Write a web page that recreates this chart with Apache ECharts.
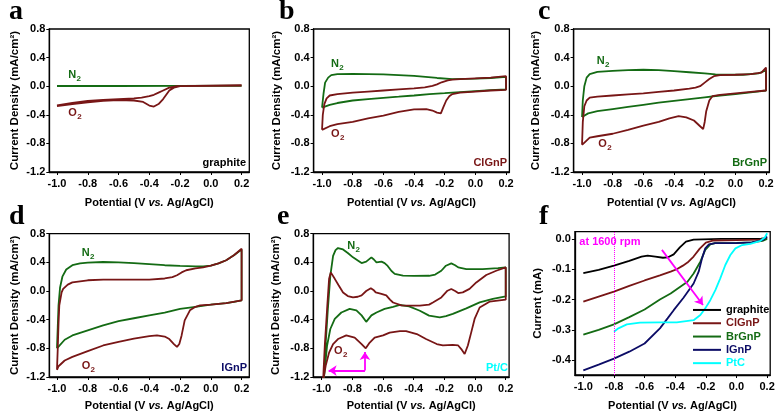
<!DOCTYPE html>
<html><head><meta charset="utf-8">
<script src="https://cdn.jsdelivr.net/npm/echarts@6/dist/echarts.min.js"></script>
<style>html,body{margin:0;padding:0;background:#fff}#c{width:781px;height:419px}</style>
</head><body><div id="c"></div>
<script>
// ---------- tick labels ----------
const xTicks = [-1.0, -0.8, -0.6, -0.4, -0.2, 0.0, 0.2];
const yTicksCV = [0.8, 0.4, 0.0, -0.4, -0.8, -1.2];
const yTicksLSV = [0.0, -0.1, -0.2, -0.3, -0.4];
const panelLetters = ['a', 'b', 'c', 'd', 'e', 'f'];
const sampleNames = ['graphite', 'ClGnP', 'BrGnP', 'IGnP', 'Pt/C'];
const lsvNames = ['graphite', 'ClGnP', 'BrGnP', 'IGnP', 'PtC'];

// ---------- panel a (graphite) ----------
const aN2 = [[-1.0, 0.003], [-0.6, 0.003], [-0.2, 0.004], [0.2, 0.006]];
const aO2 = [[-1.0, -0.27], [-0.9, -0.235], [-0.8, -0.205], [-0.7, -0.19], [-0.6, -0.18], [-0.5, -0.17], [-0.45, -0.16], [-0.4, -0.14], [-0.37, -0.12], [-0.34, -0.09], [-0.31, -0.06], [-0.27, -0.02], [-0.22, 0.0], [0.0, 0.008], [0.2, 0.01],
  [0.2, 0.008], [0.0, 0.006], [-0.2, 0.0], [-0.24, -0.02], [-0.27, -0.06], [-0.31, -0.18], [-0.34, -0.25], [-0.37, -0.285], [-0.4, -0.27], [-0.44, -0.22], [-0.5, -0.2], [-0.6, -0.195], [-0.7, -0.205], [-0.8, -0.225], [-0.9, -0.25], [-1.0, -0.28]];

// ---------- panel b (ClGnP) ----------
const bN2 = [[-1.0, -0.30], [-0.99, -0.1], [-0.98, 0.05], [-0.96, 0.12], [-0.94, 0.155], [-0.9, 0.17], [-0.8, 0.172], [-0.6, 0.165], [-0.4, 0.145], [-0.25, 0.115], [-0.15, 0.1], [0.0, 0.105], [0.1, 0.115], [0.2, 0.13],
  [0.2, -0.045], [0.1, -0.055], [0.0, -0.068], [-0.1, -0.082], [-0.2, -0.098], [-0.3, -0.112], [-0.4, -0.13], [-0.5, -0.147], [-0.6, -0.163], [-0.7, -0.18], [-0.8, -0.2], [-0.9, -0.235], [-0.95, -0.26], [-1.0, -0.30]];
const bO2 = [[-1.0, -0.61], [-0.995, -0.4], [-0.985, -0.25], [-0.97, -0.17], [-0.95, -0.13], [-0.9, -0.11], [-0.8, -0.09], [-0.7, -0.075], [-0.6, -0.06], [-0.5, -0.045], [-0.4, -0.03], [-0.33, -0.015], [-0.28, 0.005], [-0.25, 0.025], [-0.22, 0.055], [-0.18, 0.08], [-0.15, 0.093], [-0.1, 0.1], [0.0, 0.11], [0.1, 0.12], [0.2, 0.14],
  [0.2, -0.05], [0.1, -0.06], [0.0, -0.075], [-0.1, -0.09], [-0.15, -0.11], [-0.17, -0.14], [-0.19, -0.2], [-0.21, -0.3], [-0.225, -0.38], [-0.235, -0.4], [-0.25, -0.37], [-0.28, -0.34], [-0.32, -0.32], [-0.4, -0.325], [-0.5, -0.36], [-0.6, -0.41], [-0.7, -0.45], [-0.8, -0.5], [-0.9, -0.53], [-0.95, -0.56], [-1.0, -0.61]];

// ---------- panel c (BrGnP) ----------
const cN2 = [[-1.0, -0.43], [-0.995, -0.2], [-0.985, 0.0], [-0.97, 0.12], [-0.95, 0.17], [-0.9, 0.2], [-0.8, 0.215], [-0.7, 0.225], [-0.6, 0.23], [-0.5, 0.225], [-0.4, 0.21], [-0.3, 0.195], [-0.2, 0.18], [-0.13, 0.165], [-0.05, 0.16], [0.05, 0.16], [0.15, 0.18], [0.2, 0.22],
  [0.2, -0.06], [0.1, -0.085], [0.0, -0.11], [-0.1, -0.13], [-0.2, -0.155], [-0.3, -0.18], [-0.4, -0.205], [-0.5, -0.23], [-0.6, -0.26], [-0.7, -0.29], [-0.8, -0.32], [-0.9, -0.35], [-0.96, -0.38], [-1.0, -0.43]];
const cO2 = [[-1.0, -0.82], [-0.995, -0.5], [-0.985, -0.28], [-0.97, -0.2], [-0.95, -0.16], [-0.9, -0.145], [-0.8, -0.13], [-0.7, -0.115], [-0.6, -0.1], [-0.5, -0.08], [-0.4, -0.06], [-0.3, -0.035], [-0.26, -0.02], [-0.23, 0.0], [-0.2, 0.05], [-0.17, 0.1], [-0.14, 0.14], [-0.1, 0.155], [0.0, 0.16], [0.1, 0.17], [0.17, 0.19], [0.2, 0.26],
  [0.2, -0.06], [0.1, -0.08], [0.0, -0.1], [-0.1, -0.12], [-0.15, -0.14], [-0.17, -0.2], [-0.19, -0.35], [-0.2, -0.5], [-0.21, -0.6], [-0.23, -0.56], [-0.27, -0.48], [-0.32, -0.435], [-0.37, -0.42], [-0.43, -0.45], [-0.5, -0.5], [-0.6, -0.55], [-0.7, -0.61], [-0.8, -0.665], [-0.9, -0.7], [-0.95, -0.72], [-1.0, -0.82]];

// ---------- panel d (IGnP) ----------
const dN2 = [[-1.0, -0.8], [-0.995, -0.5], [-0.99, -0.2], [-0.98, 0.05], [-0.965, 0.2], [-0.94, 0.3], [-0.9, 0.36], [-0.85, 0.385], [-0.8, 0.395], [-0.7, 0.405], [-0.6, 0.4], [-0.5, 0.39], [-0.4, 0.375], [-0.3, 0.36], [-0.2, 0.35], [-0.1, 0.345], [-0.05, 0.345], [0.0, 0.355], [0.05, 0.385], [0.1, 0.43], [0.15, 0.5], [0.2, 0.58],
  [0.2, -0.13], [0.15, -0.15], [0.1, -0.17], [0.0, -0.19], [-0.1, -0.22], [-0.2, -0.25], [-0.3, -0.3], [-0.4, -0.34], [-0.5, -0.38], [-0.6, -0.42], [-0.7, -0.48], [-0.8, -0.55], [-0.9, -0.62], [-0.95, -0.68], [-1.0, -0.8]];
const dO2 = [[-1.0, -1.1], [-0.995, -0.8], [-0.99, -0.45], [-0.985, -0.2], [-0.97, -0.02], [-0.96, 0.03], [-0.93, 0.09], [-0.9, 0.12], [-0.8, 0.15], [-0.7, 0.16], [-0.6, 0.16], [-0.5, 0.16], [-0.4, 0.16], [-0.3, 0.175], [-0.25, 0.195], [-0.22, 0.22], [-0.19, 0.26], [-0.16, 0.29], [-0.1, 0.315], [-0.05, 0.33], [0.0, 0.355], [0.05, 0.385], [0.1, 0.43], [0.15, 0.5], [0.2, 0.59],
  [0.2, -0.13], [0.1, -0.17], [0.0, -0.19], [-0.07, -0.2], [-0.1, -0.22], [-0.136, -0.27], [-0.17, -0.41], [-0.19, -0.62], [-0.205, -0.74], [-0.22, -0.78], [-0.24, -0.74], [-0.27, -0.67], [-0.3, -0.635], [-0.35, -0.62], [-0.4, -0.63], [-0.5, -0.665], [-0.6, -0.71], [-0.7, -0.76], [-0.8, -0.84], [-0.9, -0.92], [-0.95, -0.97], [-0.99, -1.05], [-1.0, -1.1]];

// ---------- panel e (Pt/C) ----------
const eN2 = [[-0.99, -1.3], [-0.985, -1.2], [-0.974, -0.72], [-0.96, -0.25], [-0.944, 0.21], [-0.926, 0.49], [-0.91, 0.57], [-0.894, 0.6], [-0.861, 0.58], [-0.83, 0.53], [-0.796, 0.47], [-0.76, 0.42], [-0.74, 0.39], [-0.71, 0.41], [-0.676, 0.47], [-0.66, 0.44], [-0.643, 0.4], [-0.61, 0.41], [-0.59, 0.39], [-0.57, 0.35], [-0.545, 0.28], [-0.524, 0.24], [-0.47, 0.215], [-0.4, 0.21], [-0.3, 0.213], [-0.26, 0.23], [-0.22, 0.283], [-0.19, 0.353], [-0.155, 0.385], [-0.13, 0.36], [-0.11, 0.33], [-0.057, 0.306], [0.05, 0.306], [0.15, 0.32], [0.2, 0.33],
  [0.2, -0.075], [0.116, -0.11], [0.03, -0.159], [-0.057, -0.243], [-0.145, -0.32], [-0.19, -0.35], [-0.23, -0.368], [-0.3, -0.344], [-0.36, -0.275], [-0.43, -0.215], [-0.49, -0.195], [-0.535, -0.22], [-0.59, -0.25], [-0.643, -0.3], [-0.676, -0.34], [-0.71, -0.43], [-0.74, -0.34], [-0.774, -0.27], [-0.818, -0.25], [-0.872, -0.3], [-0.915, -0.39], [-0.944, -0.53], [-0.965, -0.76], [-0.985, -1.2], [-0.99, -1.3]];
const eO2 = [[-0.995, -1.3], [-0.99, -1.2], [-0.98, -0.76], [-0.965, -0.25], [-0.952, 0.17], [-0.941, 0.26], [-0.93, 0.24], [-0.915, 0.17], [-0.89, 0.08], [-0.861, -0.02], [-0.83, -0.07], [-0.796, -0.09], [-0.765, -0.08], [-0.74, -0.06], [-0.71, 0.0], [-0.68, 0.04], [-0.66, 0.01], [-0.648, -0.02], [-0.611, -0.04], [-0.579, -0.06], [-0.555, -0.12], [-0.535, -0.16], [-0.48, -0.2], [-0.427, -0.205], [-0.36, -0.205], [-0.3, -0.19], [-0.275, -0.16], [-0.22, -0.089], [-0.18, 0.004], [-0.155, 0.028], [-0.13, 0.0], [-0.11, -0.028], [-0.08, -0.019], [-0.036, 0.03], [0.008, 0.12], [0.073, 0.223], [0.138, 0.283], [0.2, 0.33],
  [0.2, -0.121], [0.094, -0.149], [0.03, -0.23], [-0.003, -0.39], [-0.025, -0.577], [-0.047, -0.76], [-0.068, -0.879], [-0.09, -0.81], [-0.11, -0.76], [-0.146, -0.753], [-0.21, -0.76], [-0.25, -0.74], [-0.32, -0.67], [-0.38, -0.6], [-0.45, -0.56], [-0.49, -0.56], [-0.557, -0.58], [-0.6, -0.62], [-0.655, -0.65], [-0.687, -0.72], [-0.713, -0.8], [-0.74, -0.74], [-0.785, -0.65], [-0.84, -0.62], [-0.894, -0.67], [-0.926, -0.74], [-0.952, -0.86], [-0.974, -1.04], [-0.987, -1.2], [-0.99, -1.3]];
const eArrowH = [[-0.718, -1.11], [-0.955, -1.11]];
const eArrowV = [[-0.718, -1.11], [-0.718, -0.85]];

// ---------- panel f (LSV at 1600 rpm) ----------
const fGraphite = [[-1.0, -0.113], [-0.9, -0.102], [-0.8, -0.088], [-0.7, -0.072], [-0.62, -0.058], [-0.58, -0.055], [-0.53, -0.058], [-0.48, -0.062], [-0.45, -0.061], [-0.41, -0.051], [-0.37, -0.028], [-0.33, -0.009], [-0.28, -0.002], [-0.1, 0.0], [0.1, 0.0], [0.16, 0.001], [0.2, 0.003]];
const fClGnP = [[-1.0, -0.207], [-0.9, -0.19], [-0.8, -0.174], [-0.7, -0.155], [-0.6, -0.137], [-0.5, -0.12], [-0.43, -0.108], [-0.39, -0.1], [-0.35, -0.088], [-0.32, -0.078], [-0.28, -0.058], [-0.24, -0.032], [-0.2, -0.012], [-0.15, -0.005], [0.0, -0.004], [0.15, -0.002], [0.2, 0.002]];
const fBrGnP = [[-1.0, -0.316], [-0.9, -0.3], [-0.8, -0.282], [-0.7, -0.258], [-0.6, -0.233], [-0.5, -0.2], [-0.43, -0.18], [-0.36, -0.155], [-0.32, -0.141], [-0.28, -0.114], [-0.236, -0.075], [-0.204, -0.036], [-0.171, -0.018], [-0.14, -0.014], [0.0, -0.013], [0.1, -0.011], [0.17, -0.006], [0.2, 0.0]];
const fIGnP = [[-1.0, -0.434], [-0.9, -0.415], [-0.8, -0.395], [-0.7, -0.372], [-0.6, -0.345], [-0.5, -0.295], [-0.45, -0.262], [-0.41, -0.235], [-0.346, -0.194], [-0.28, -0.147], [-0.247, -0.108], [-0.225, -0.064], [-0.204, -0.031], [-0.18, -0.018], [-0.14, -0.014], [0.0, -0.014], [0.1, -0.011], [0.17, -0.004], [0.2, 0.008]];
const fPtC = [[-0.8, -0.306], [-0.771, -0.295], [-0.716, -0.282], [-0.63, -0.276], [-0.5, -0.275], [-0.39, -0.275], [-0.28, -0.268], [-0.236, -0.251], [-0.204, -0.229], [-0.171, -0.202], [-0.138, -0.169], [-0.106, -0.13], [-0.073, -0.086], [-0.04, -0.053], [-0.007, -0.031], [0.037, -0.02], [0.09, -0.016], [0.156, -0.006], [0.185, 0.005], [0.2, 0.019]];
const fRpmLine = [-0.8];
const fArrow = [[-0.487, -0.036], [-0.219, -0.218]];

// ---------- styling ----------
const GREEN = '#146b14', RED = '#781616', NAVY = '#0c0c66', CYAN = '#00ffff', PINK = '#ff00ff', BLACK = '#000000';
const FONT = '"Liberation Sans", Arial, Helvetica, sans-serif';
const SERIF = '"Liberation Serif", "Times New Roman", serif';

const panels = [
  { left: 49.3, top: 29, width: 200, height: 143, xmin: -1.05, xmax: 0.25, ymin: -1.2, ymax: 0.8, yt: yTicksCV, yname: 'Current Density (mA/cm²)', ygap: 28.5, xgap: 25 },
  { left: 313.6, top: 29, width: 195.8, height: 143, xmin: -1.055, xmax: 0.222, ymin: -1.2, ymax: 0.8, yt: yTicksCV, yname: 'Current Density (mA/cm²)', ygap: 31, xgap: 25 },
  { left: 573.6, top: 29, width: 195.8, height: 143, xmin: -1.055, xmax: 0.222, ymin: -1.2, ymax: 0.8, yt: yTicksCV, yname: 'Current Density (mA/cm²)', ygap: 32, xgap: 25 },
  { left: 49.3, top: 233.7, width: 200, height: 143.3, xmin: -1.05, xmax: 0.25, ymin: -1.2, ymax: 0.8, yt: yTicksCV, yname: 'Current Density (mA/cm²)', ygap: 28.5, xgap: 23 },
  { left: 313.3, top: 233.7, width: 195.8, height: 143.3, xmin: -1.055, xmax: 0.222, ymin: -1.2, ymax: 0.8, yt: yTicksCV, yname: 'Current Density (mA/cm²)', ygap: 31.3, xgap: 23 },
  { left: 574.9, top: 231.7, width: 195.3, height: 143.3, xmin: -1.055, xmax: 0.22, ymin: -0.449, ymax: 0.024, yt: yTicksLSV, yname: 'Current (mA)', ygap: 31, xgap: 25.5 }
];

function fmt(v) { return Math.abs(v) < 1e-9 ? '0.0' : v.toFixed(1); }
const tickFont = { fontSize: 11, fontWeight: 'bold', color: '#000', fontFamily: FONT };

const grid = [], xAxis = [], yAxis = [];
panels.forEach((p, i) => {
  grid.push({ left: p.left, top: p.top, width: p.width, height: p.height, show: true, borderColor: '#000', borderWidth: 1.3, backgroundColor: 'transparent', containLabel: false });
  xAxis.push({
    type: 'value', gridIndex: i, min: p.xmin, max: p.xmax,
    axisLine: { show: true, onZero: false, lineStyle: { color: '#000', width: 1.3 } },
    axisTick: { show: true, inside: false, length: 3, customValues: xTicks, lineStyle: { color: '#000', width: 1 } },
    axisLabel: Object.assign({ customValues: xTicks, formatter: fmt, margin: 6 }, tickFont),
    splitLine: { show: false },
    name: '{n|Potential (V }{i|vs.}{n| Ag/AgCl)}', nameLocation: 'middle', nameGap: p.xgap,
    nameTextStyle: { rich: { n: { fontSize: 11, fontWeight: 'bold', fontFamily: FONT, color: '#000' }, i: { fontSize: 11, fontWeight: 'bold', fontStyle: 'italic', fontFamily: FONT, color: '#000' } } }
  });
  yAxis.push({
    type: 'value', gridIndex: i, min: p.ymin, max: p.ymax,
    axisLine: { show: true, onZero: false, lineStyle: { color: '#000', width: 1.3 } },
    axisTick: { show: true, inside: false, length: 3, customValues: p.yt, lineStyle: { color: '#000', width: 1 } },
    axisLabel: Object.assign({ customValues: p.yt, formatter: fmt, margin: 4 }, tickFont),
    splitLine: { show: false },
    name: p.yname, nameLocation: 'middle', nameGap: p.ygap,
    nameTextStyle: { fontSize: 11.5, fontWeight: 'bold', fontFamily: FONT, color: '#000' }
  });
});

function line(name, idx, data, color, extra) {
  return Object.assign({ type: 'line', name: name, xAxisIndex: idx, yAxisIndex: idx, data: data, symbol: 'none', showSymbol: false, smooth: false, clip: true, silent: true, animation: false,
    lineStyle: { color: color, width: 1.8 }, itemStyle: { color: color } }, extra || {});
}

const series = [
  line('aN2', 0, aN2, GREEN), line('aO2', 0, aO2, RED),
  line('bN2', 1, bN2, GREEN), line('bO2', 1, bO2, RED),
  line('cN2', 2, cN2, GREEN), line('cO2', 2, cO2, RED),
  line('dN2', 3, dN2, GREEN), line('dO2', 3, dO2, RED),
  line('eN2', 4, eN2, GREEN), line('eO2', 4, eO2, RED, {
    markLine: { silent: true, animation: false, symbol: ['none', 'arrow'], symbolSize: 8, label: { show: false },
      lineStyle: { color: PINK, width: 1.8, type: 'solid' },
      data: [[{ coord: eArrowH[0] }, { coord: eArrowH[1] }], [{ coord: eArrowV[0] }, { coord: eArrowV[1] }]] }
  }),
  line(lsvNames[0], 5, fGraphite, BLACK, {
    markLine: { silent: true, animation: false, symbol: ['none', 'none'], label: { show: false },
      lineStyle: { color: PINK, width: 1, type: 'dotted' },
      data: [{ xAxis: fRpmLine[0] }] }
  }),
  line(lsvNames[1], 5, fClGnP, RED),
  line(lsvNames[2], 5, fBrGnP, GREEN),
  line(lsvNames[3], 5, fIGnP, NAVY),
  line(lsvNames[4], 5, fPtC, CYAN, {
    markLine: { silent: true, animation: false, symbol: ['none', 'arrow'], symbolSize: 8, label: { show: false },
      lineStyle: { color: PINK, width: 1.8, type: 'solid' },
      data: [[{ coord: fArrow[0] }, { coord: fArrow[1] }]] }
  })
];

// ---------- text annotations ----------
const graphic = [];
function txt(x, y, s, color, size, align, font) {
  graphic.push({ type: 'text', x: x, y: y, silent: true, z: 100,
    style: { text: s, fill: color, font: 'bold ' + size + 'px ' + (font || FONT), align: align || 'left', verticalAlign: 'middle' } });
}
function gas(x, y, base, color) {
  txt(x, y, base, color, 11);
  const w = base === 'O' ? 8.6 : 7.9;
  txt(x + w + 0.3, y + 4, '2', color, 8);
}
const letterPos = [[9, 12], [279, 12], [538, 12], [9, 217], [277, 217], [539, 217]];
panelLetters.forEach((l, i) => txt(letterPos[i][0], letterPos[i][1], l, '#000', 28, 'left', SERIF));

gas(68.3, 74.5, 'N', GREEN); gas(68.3, 113, 'O', RED);
gas(331, 64, 'N', GREEN); gas(331, 134, 'O', RED);
gas(596.7, 61, 'N', GREEN); gas(598.3, 144, 'O', RED);
gas(81.7, 252.5, 'N', GREEN); gas(81.7, 366, 'O', RED);
gas(347.3, 245.5, 'N', GREEN); gas(334, 350.5, 'O', RED);

txt(246, 163, sampleNames[0], BLACK, 11, 'right');
txt(507, 163, sampleNames[1], RED, 11, 'right');
txt(767, 163, sampleNames[2], GREEN, 11, 'right');
txt(247, 368, sampleNames[3], NAVY, 11, 'right');
txt(508, 368, sampleNames[4], CYAN, 11, 'right');
txt(579.3, 241.7, 'at 1600 rpm', PINK, 11, 'left');

const legendColors = [BLACK, RED, GREEN, NAVY, CYAN];
const option = {
  backgroundColor: '#ffffff',
  animation: false,
  grid: grid, xAxis: xAxis, yAxis: yAxis, series: series, graphic: graphic,
  legend: {
    show: true, orient: 'vertical', left: 693, top: 303.3, itemWidth: 28, itemHeight: 2, itemGap: 0, padding: 0,
    icon: 'rect', selectedMode: false,
    textStyle: { fontSize: 11, fontWeight: 'bold', fontFamily: FONT, lineHeight: 13.3 },
    data: lsvNames.map((n, i) => ({ name: n, icon: 'rect', textStyle: { color: legendColors[i] } }))
  }
};
const chart = echarts.init(document.getElementById('c'), null, { renderer: 'canvas' });
chart.setOption(option);
</script>
</body></html>
